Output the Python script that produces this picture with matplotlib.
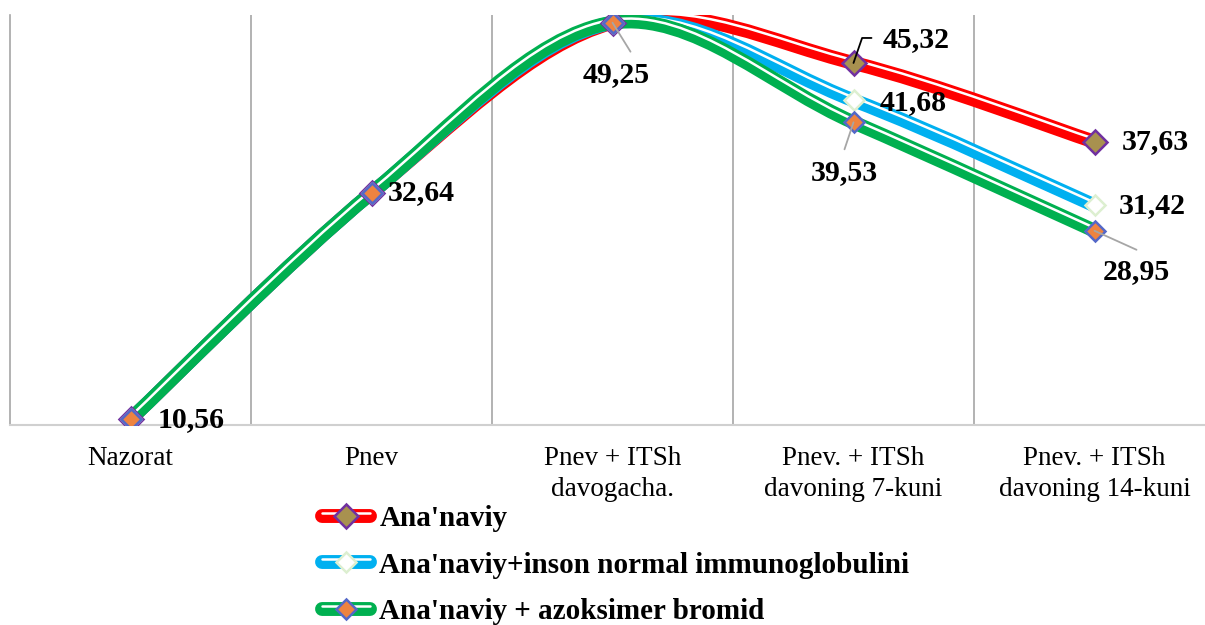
"""Line chart: smoothed three-series comparison with compound (thick-thin) lines."""

import matplotlib

matplotlib.use("Agg")

import matplotlib.pyplot as plt  # noqa: E402
import matplotlib.patheffects as pe  # noqa: E402
import numpy as np  # noqa: E402
from matplotlib.path import Path  # noqa: E402
from matplotlib.patches import PathPatch  # noqa: E402
from matplotlib.lines import Line2D  # noqa: E402
from matplotlib.legend_handler import HandlerTuple  # noqa: E402

# --- data -------------------------------------------------------------
categories = [
    "Nazorat",
    "Pnev",
    "Pnev + ITSh\ndavogacha.",
    "Pnev. + ITSh\ndavoning 7-kuni",
    "Pnev. + ITSh\ndavoning 14-kuni",
]
series_names = [
    "Ana'naviy",
    "Ana'naviy+inson normal immunoglobulini",
    "Ana'naviy + azoksimer bromid",
]
anaviy = [10.56, 32.64, 49.25, 45.32, 37.63]
immunoglobulin = [10.56, 32.64, 49.25, 41.68, 31.42]
azoksimer = [10.56, 32.64, 49.25, 39.53, 28.95]
series_values = [anaviy, immunoglobulin, azoksimer]

# --- styles -----------------------------------------------------------
FONT = "Liberation Serif"
line_colors = ["#FF0000", "#00B0F0", "#00B050"]
marker_faces = ["#A8914F", "#FFFFFF", "#EE8340"]
marker_edges = ["#7030A0", "#DDEFD0", "#5468C8"]
marker_sizes = [12, 10, 10]

# (series, point, text offset px, ha)
label_specs = [
    (2, 0, (27, 0), "left"),
    (2, 1, (16, 0), "left"),
    (2, 2, (4, -52), "center"),
    (0, 3, (29, 23), "left"),
    (1, 3, (26, -2), "left"),
    (2, 3, (-9, -50), "center"),
    (0, 4, (27, 0), "left"),
    (1, 4, (24, 0), "left"),
    (2, 4, (42, -41), "center"),
]
# (series, point, end offset px, color, connection)
leader_specs = [
    (2, 2, (18, -29), "#A6A6A6", "arc3"),
    (2, 3, (-9, -27), "#A6A6A6", "arc3"),
    (2, 4, (42, -19), "#A6A6A6", "arc3"),
    (0, 3, (18, 25), "#000000", "angle,angleA=0,angleB=71,rad=0"),
]


def smooth_path(xs, ys):
    """Bezier path through the points (Excel-like smoothing)."""
    pts = np.column_stack([xs, ys]).astype(float)
    n = len(pts)
    verts = [pts[0]]
    codes = [Path.MOVETO]
    for i in range(n - 1):
        p0 = pts[max(i - 1, 0)]
        p1 = pts[i]
        p2 = pts[i + 1]
        p3 = pts[min(i + 2, n - 1)]
        verts += [p1 + (p2 - p0) / 6, p2 - (p3 - p1) / 6, p2]
        codes += [Path.CURVE4] * 3
    return Path(verts, codes)


def compound_effects(color):
    # thick band with a thin white stripe near its upper edge
    return [
        pe.Stroke(linewidth=10, foreground=color),
        pe.Stroke(linewidth=1.8, foreground="white", offset=(0, 2.1)),
    ]


fig = plt.figure(figsize=(12.05, 6.25), dpi=100)
ax = fig.add_axes([10 / 1205, 200 / 625, 1.0, 410 / 625])

x = np.arange(len(categories))
handles = []
for i, vals in enumerate(series_values):
    patch = PathPatch(
        smooth_path(x, vals),
        fill=False,
        edgecolor=line_colors[i],
        capstyle="round",
        joinstyle="round",
        zorder=2 + 0.1 * i,
        path_effects=compound_effects(line_colors[i]),
    )
    ax.add_patch(patch)
    ax.plot(
        x, vals, linestyle="none", marker="D",
        markersize=marker_sizes[i], markerfacecolor=marker_faces[i],
        markeredgecolor=marker_edges[i], markeredgewidth=1.8,
        zorder=3 + 0.1 * i,
    )
    line_h = Line2D([], [], color=line_colors[i], solid_capstyle="round",
                    path_effects=compound_effects(line_colors[i]))
    mark_h = Line2D([], [], linestyle="none", marker="D",
                    markersize=marker_sizes[i], markerfacecolor=marker_faces[i],
                    markeredgecolor=marker_edges[i], markeredgewidth=1.8)
    handles.append((line_h, mark_h))

for s, p, off, col, conn in leader_specs:
    ax.annotate(
        "", xy=(x[p], series_values[s][p]), xytext=off,
        textcoords="offset pixels",
        arrowprops=dict(arrowstyle="-", color=col, lw=1.3,
                        shrinkA=0, shrinkB=0, connectionstyle=conn),
        zorder=4,
    )

for s, p, off, ha in label_specs:
    v = series_values[s][p]
    ax.annotate(
        f"{v:.2f}".replace(".", ","), xy=(x[p], v), xytext=off,
        textcoords="offset pixels", ha=ha, va="center",
        fontsize=21.5, fontweight="bold", family=FONT, zorder=5,
    )

ax.set_xlim(-0.5, len(categories) - 0.5)
ax.set_ylim(10, 50)
ax.set_yticks([])
ax.set_xticks(x)
ax.set_xticklabels(categories, fontsize=19.5, family=FONT, linespacing=1.3)
ax.set_xticks(x[:-1] + 0.5, minor=True)
ax.grid(which="minor", axis="x", color="#A6A6A6", lw=1.2)
ax.tick_params(axis="x", which="both", length=0, pad=15)
for side in ("top", "right"):
    ax.spines[side].set_visible(False)
ax.spines["left"].set_color("#A6A6A6")
ax.spines["left"].set_linewidth(1.2)
ax.spines["bottom"].set_color("#D0D0D0")
ax.spines["bottom"].set_linewidth(1.5)

fig.legend(
    handles, series_names, loc="upper left",
    bbox_to_anchor=(322 / 1205, (625 - 505) / 625),
    frameon=False, borderpad=0, borderaxespad=0,
    handlelength=1.65, handletextpad=0.32, labelspacing=0.67,
    handler_map={tuple: HandlerTuple(ndivide=1)},
    prop=dict(family=FONT, weight="bold", size=21),
)

fig.savefig("out.png", dpi=100)
